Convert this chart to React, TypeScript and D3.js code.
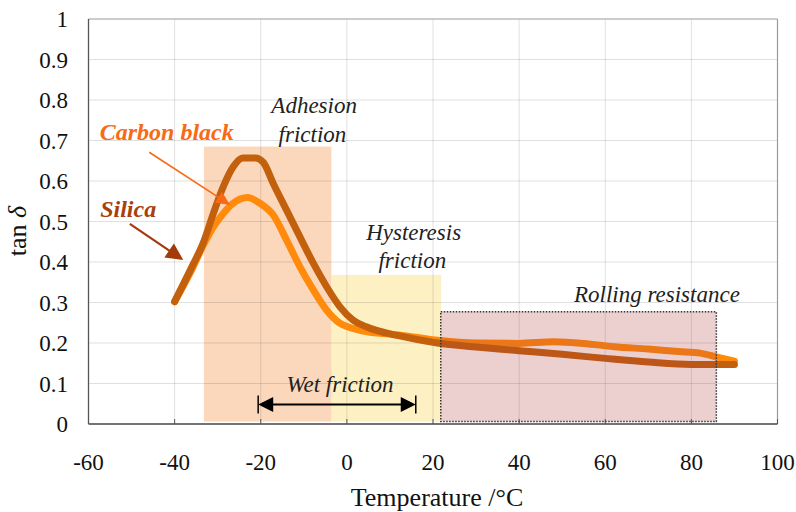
import React from "react";
import * as d3 from "d3";

// x ticks / y ticks
const xTicks = [-60, -40, -20, 0, 20, 40, 60, 80, 100];
const yTicks = [0, 0.1, 0.2, 0.3, 0.4, 0.5, 0.6, 0.7, 0.8, 0.9, 1];
const yTickLabels = ["0", "0.1", "0.2", "0.3", "0.4", "0.5", "0.6", "0.7", "0.8", "0.9", "1"];

// Silica curve (tan delta vs temperature)
const silicaTemp = [-40, -36, -33.4, -31, -28.7, -26.4, -24.2, -21.2, -19.4, -17.1, -14, -10.9, -7.8, -4.7, -1.65, 1.4, 4.5, 12, 21, 30, 40, 50, 60, 70, 80, 90];
const silicaTan = [0.302, 0.388, 0.446, 0.52, 0.586, 0.635, 0.657, 0.657, 0.646, 0.594, 0.528, 0.462, 0.397, 0.339, 0.29, 0.257, 0.24, 0.218, 0.2, 0.19, 0.181, 0.172, 0.162, 0.153, 0.147, 0.147];

// Carbon black curve
const carbonTemp = [-40, -35.7, -33.4, -31, -28.7, -26.4, -23, -20.2, -17.1, -14, -10.9, -7.8, -4.7, -1.65, 1.4, 4.5, 12, 21.5, 30, 40, 48, 55, 62, 70, 77, 82, 86, 90];
const carbonTan = [0.302, 0.388, 0.44, 0.487, 0.52, 0.545, 0.559, 0.545, 0.516, 0.454, 0.388, 0.331, 0.281, 0.249, 0.236, 0.228, 0.22, 0.206, 0.2, 0.199, 0.203, 0.199, 0.191, 0.185, 0.179, 0.175, 0.165, 0.155];

// shaded regions [x0, x1, y0, y1]
const adhesionBox = [-33.2, -3.6, 0.006, 0.685];
const hysteresisBox = [-3.6, 21.9, 0.006, 0.368];
const rollingBox = [21.8, 85.8, 0.006, 0.277];

// wet friction span
const wetSpan = [-20.6, 16];
const wetY = 0.048;

const W = 796;
const H = 512;
const serif = "Liberation Serif, Times New Roman, Times, DejaVu Serif, serif";

const arrowHead = (tx: number, ty: number, fx: number, fy: number, len: number, hw: number) => {
  const dx = tx - fx;
  const dy = ty - fy;
  const d = Math.hypot(dx, dy);
  const ux = dx / d;
  const uy = dy / d;
  const bx = tx - ux * len;
  const by = ty - uy * len;
  return `${tx},${ty} ${bx - uy * hw},${by + ux * hw} ${bx + uy * hw},${by - ux * hw}`;
};

export default function App() {
  const x = d3.scaleLinear().domain([-60, 100]).range([88.5, 777.5]);
  const y = d3.scaleLinear().domain([0, 1]).range([424, 19]);

  const line = d3
    .line<[number, number]>()
    .x((d) => x(d[0]))
    .y((d) => y(d[1]))
    .curve(d3.curveMonotoneX);

  const silicaPath = line(silicaTemp.map((t, i) => [t, silicaTan[i]]) as [number, number][]) || "";
  const carbonPath = line(carbonTemp.map((t, i) => [t, carbonTan[i]]) as [number, number][]) || "";

  const box = (b: number[]) => ({
    x: x(b[0]),
    y: y(b[3]),
    width: x(b[1]) - x(b[0]),
    height: y(b[2]) - y(b[3]),
  });

  // annotation arrows (data coords)
  const cbFrom = [x(-45.9), y(0.671)];
  const cbTip = [x(-27.1), y(0.541)];
  const siFrom = [x(-50.4), y(0.494)];
  const siTip = [x(-38.0), y(0.405)];

  const shorten = (f: number[], t: number[], by: number) => {
    const d = Math.hypot(t[0] - f[0], t[1] - f[1]);
    return [t[0] - ((t[0] - f[0]) / d) * by, t[1] - ((t[1] - f[1]) / d) * by];
  };
  const cbEnd = shorten(cbFrom, cbTip, 12);
  const siEnd = shorten(siFrom, siTip, 15);

  const wx0 = x(wetSpan[0]);
  const wx1 = x(wetSpan[1]);
  const wy = y(wetY);

  const txt = (size: number, extra: React.CSSProperties = {}): React.CSSProperties => ({
    fontFamily: serif,
    fontSize: size,
    ...extra,
  });
  const italic = txt(23, { fontStyle: "italic" });

  return (
    <svg width={W} height={H} style={{ position: "absolute", left: 0, top: 0, background: "#fff" }}>
      {/* regions under the curves */}
      <rect {...box(adhesionBox)} fill="#F7B27A" fillOpacity={0.5} />
      <rect {...box(hysteresisBox)} fill="#FCE38A" fillOpacity={0.5} />

      {/* grid */}
      {xTicks.slice(1, -1).map((t) => (
        <line key={"gx" + t} x1={x(t)} x2={x(t)} y1={y(1)} y2={y(0)} stroke="#000" strokeOpacity={0.12} />
      ))}
      {yTicks.slice(1, -1).map((t) => (
        <line key={"gy" + t} x1={x(-60)} x2={x(100)} y1={y(t)} y2={y(t)} stroke="#000" strokeOpacity={0.12} />
      ))}

      {/* frame */}
      <line x1={x(-60)} x2={x(100)} y1={y(1)} y2={y(1)} stroke="#9a9a9a" strokeWidth={1.2} />
      <line x1={x(100)} x2={x(100)} y1={y(1)} y2={y(0)} stroke="#9a9a9a" strokeWidth={1.2} />
      <line x1={x(-60)} x2={x(-60)} y1={y(1)} y2={y(0)} stroke="#555" strokeWidth={1.3} />
      <line x1={x(-60)} x2={x(100)} y1={y(0)} y2={y(0)} stroke="#444" strokeWidth={1.3} />
      {xTicks.map((t) => (
        <line key={"tx" + t} x1={x(t)} x2={x(t)} y1={y(0)} y2={y(0) - 5} stroke="#555" />
      ))}

      {/* curves */}
      <path d={carbonPath} fill="none" stroke="#FF8A0C" strokeWidth={7} strokeLinecap="round" strokeLinejoin="round" />
      <path d={silicaPath} fill="none" stroke="#C2600E" strokeWidth={7} strokeLinecap="round" strokeLinejoin="round" />

      {/* rolling resistance box over curves */}
      <rect {...box(rollingBox)} fill="#B03C3C" fillOpacity={0.24} stroke="#333" strokeWidth={1.5} strokeDasharray="1.5 1.5" />

      {/* wet friction */}
      <line x1={wx0 + 12} x2={wx1 - 12} y1={wy} y2={wy} stroke="#000" strokeWidth={2} />
      <polygon points={arrowHead(wx0, wy, wx1, wy, 15, 7.5)} fill="#000" />
      <polygon points={arrowHead(wx1, wy, wx0, wy, 15, 7.5)} fill="#000" />
      <line x1={wx0} x2={wx0} y1={wy - 9} y2={wy + 9} stroke="#000" strokeWidth={1.5} />
      <line x1={wx1} x2={wx1} y1={wy - 9} y2={wy + 9} stroke="#000" strokeWidth={1.5} />
      <text x={x(-1.6)} y={y(0.08)} textAnchor="middle" fill="#222" style={italic}>Wet friction</text>

      {/* region labels */}
      <text x={x(-7.6)} y={y(0.768)} textAnchor="middle" fill="#222" style={italic}>Adhesion</text>
      <text x={x(-8)} y={y(0.697)} textAnchor="middle" fill="#222" style={italic}>friction</text>
      <text x={x(15.5)} y={y(0.455)} textAnchor="middle" fill="#222" style={italic}>Hysteresis</text>
      <text x={x(15.2)} y={y(0.385)} textAnchor="middle" fill="#222" style={italic}>friction</text>
      <text x={x(72)} y={y(0.302)} textAnchor="middle" fill="#222" style={italic}>Rolling resistance</text>

      {/* series labels + arrows */}
      <line x1={cbFrom[0]} y1={cbFrom[1]} x2={cbEnd[0]} y2={cbEnd[1]} stroke="#F96A14" strokeWidth={1.6} />
      <polygon points={arrowHead(cbTip[0], cbTip[1], cbFrom[0], cbFrom[1], 14, 6.5)} fill="#F96A14" />
      <text x={x(-57.4)} y={y(0.701)} fill="#F96A14" style={txt(24, { fontStyle: "italic", fontWeight: "bold" })}>
        Carbon black
      </text>
      <line x1={siFrom[0]} y1={siFrom[1]} x2={siEnd[0]} y2={siEnd[1]} stroke="#A33A0C" strokeWidth={2.2} />
      <polygon points={arrowHead(siTip[0], siTip[1], siFrom[0], siFrom[1], 17, 8.5)} fill="#A33A0C" />
      <text x={x(-57.3)} y={y(0.511)} fill="#A8400E" style={txt(24, { fontStyle: "italic", fontWeight: "bold" })}>
        Silica
      </text>

      {/* y tick labels */}
      {yTicks.map((t, i) => (
        <text key={"ly" + t} x={68} y={y(t)} dy="0.35em" textAnchor="end" fill="#111" style={txt(23)}>
          {yTickLabels[i]}
        </text>
      ))}
      {/* x tick labels */}
      {xTicks.map((t) => (
        <text key={"lx" + t} x={x(t)} y={462} dy="0.35em" textAnchor="middle" fill="#111" style={txt(23)}>
          {t}
        </text>
      ))}

      {/* axis titles */}
      <text x={437} y={506} textAnchor="middle" fill="#111" style={txt(26)}>
        Temperature /°C
      </text>
      <text transform={`translate(26, 231) rotate(-90)`} textAnchor="middle" fill="#111" style={txt(26)}>
        tan <tspan style={{ fontStyle: "italic" }}>δ</tspan>
      </text>
    </svg>
  );
}
